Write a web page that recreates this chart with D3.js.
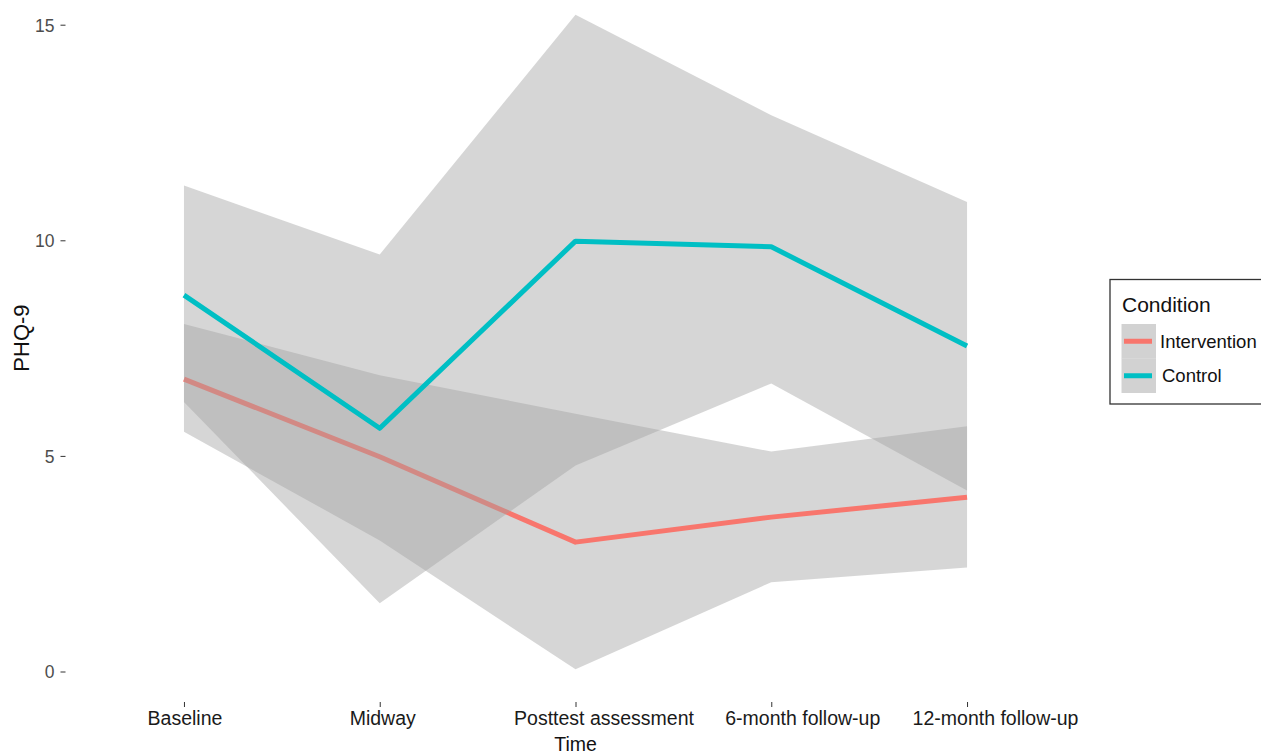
<!DOCTYPE html>
<html>
<head>
<meta charset="utf-8">
<script src="https://cdn.jsdelivr.net/npm/d3@7"></script>
<style>
  html, body { margin: 0; padding: 0; background: #ffffff; }
  svg { display: block; font-family: "Liberation Sans", Arial, sans-serif; }
</style>
</head>
<body>
<svg id="chart" width="1261" height="755"></svg>
<script>
// PHQ-9 scores over time by condition, with confidence ribbons
const timepoints = ["Baseline", "Midway", "Posttest assessment", "6-month follow-up", "12-month follow-up"];
const conditions = ["Intervention", "Control"];
const conditionColors = ["#F8766D", "#00BFC4"];

const interventionMean  = [6.78, 4.98, 3.00, 3.58, 4.04];
const interventionLower = [5.56, 3.04, 0.05, 2.07, 2.41];
const interventionUpper = [8.06, 6.87, 5.98, 5.10, 5.69];

const controlMean  = [8.73, 5.64, 9.98, 9.85, 7.55];
const controlLower = [6.25, 1.58, 4.78, 6.68, 4.20];
const controlUpper = [11.27, 9.67, 15.23, 12.90, 10.89];

const yTicks = [0, 5, 10, 15];

const series = [
  { name: conditions[0], color: conditionColors[0], mean: interventionMean, lower: interventionLower, upper: interventionUpper },
  { name: conditions[1], color: conditionColors[1], mean: controlMean, lower: controlLower, upper: controlUpper }
];

// multi-word tick labels sit slightly right of their tick
const labelNudge = { "Baseline": 0.5, "Midway": 2.5, "Posttest assessment": 28, "6-month follow-up": 31, "12-month follow-up": 28 };

const svg = d3.select("#chart");

const panel = { left: 66.5, right: 1084.5, bottom: 702 };

const x = d3.scalePoint()
  .domain(timepoints)
  .range([panel.left, panel.right])
  .padding(0.6);

const y = d3.scaleLinear()
  .domain([0, 15])
  .range([671.5, 24.7]);

const ribbonFill = "#a2a2a2";
const ribbonAlpha = 0.44;

const area = d3.area()
  .x(d => x(d.t))
  .y0(d => y(d.lo))
  .y1(d => y(d.hi));

const line = d3.line()
  .x(d => x(d.t))
  .y(d => y(d.v));

const plot = svg.append("g");

// each condition: ribbon first, then its mean line
series.forEach(s => {
  const rows = timepoints.map((t, i) => ({ t, v: s.mean[i], lo: s.lower[i], hi: s.upper[i] }));
  plot.append("path")
    .datum(rows)
    .attr("d", area)
    .attr("fill", ribbonFill)
    .attr("fill-opacity", ribbonAlpha);
  plot.append("path")
    .datum(rows)
    .attr("d", line)
    .attr("fill", "none")
    .attr("stroke", s.color)
    .attr("stroke-width", 5)
    .attr("stroke-linejoin", "round");
});

// y axis (ticks and labels only)
const yAxis = d3.axisLeft(y)
  .tickValues(yTicks)
  .tickSize(5)
  .tickPadding(6);
const gy = svg.append("g")
  .attr("transform", `translate(${panel.left - 1},0)`)
  .call(yAxis);
gy.select(".domain").remove();
gy.selectAll(".tick line").attr("stroke", "#333333").attr("stroke-width", 1);
gy.selectAll(".tick text")
  .attr("fill", "#4d4d4d")
  .style("font-size", "17.5px")
  .attr("dy", "0.36em");

// x axis (ticks and labels only)
const xAxis = d3.axisBottom(x)
  .tickSize(5)
  .tickPadding(4);
const gx = svg.append("g")
  .attr("transform", `translate(0,${panel.bottom})`)
  .call(xAxis);
gx.select(".domain").remove();
gx.selectAll(".tick line").attr("stroke", "#333333").attr("stroke-width", 1);
gx.selectAll(".tick text")
  .attr("fill", "#1a1a1a")
  .attr("dx", d => labelNudge[d] || 0)
  .style("font-size", "19.5px");

// axis titles
svg.append("text")
  .attr("x", (panel.left + panel.right) / 2)
  .attr("y", 751)
  .attr("text-anchor", "middle")
  .attr("fill", "#111111")
  .style("font-size", "19.5px")
  .text("Time");

svg.append("text")
  .attr("transform", "translate(29,338) rotate(-90)")
  .attr("text-anchor", "middle")
  .attr("fill", "#111111")
  .style("font-size", "22px")
  .text("PHQ-9");

// legend
const legend = svg.append("g");
legend.append("rect")
  .attr("x", 1110)
  .attr("y", 279.5)
  .attr("width", 200)
  .attr("height", 124.5)
  .attr("fill", "#ffffff")
  .attr("stroke", "#333333")
  .attr("stroke-width", 1.3);

legend.append("text")
  .attr("x", 1122)
  .attr("y", 312)
  .attr("fill", "#111111")
  .style("font-size", "21px")
  .text("Condition");

const keyY = d3.scaleBand()
  .domain(conditions)
  .range([324, 393]);

conditions.forEach((c, i) => {
  const ky = keyY(c);
  legend.append("rect")
    .attr("x", 1121.5)
    .attr("y", ky)
    .attr("width", 34.5)
    .attr("height", keyY.bandwidth())
    .attr("fill", ribbonFill)
    .attr("fill-opacity", ribbonAlpha * 1.1);
  legend.append("line")
    .attr("x1", 1124)
    .attr("x2", 1152)
    .attr("y1", ky + keyY.bandwidth() / 2)
    .attr("y2", ky + keyY.bandwidth() / 2)
    .attr("stroke", conditionColors[i])
    .attr("stroke-width", 5);
  legend.append("text")
    .attr("x", i === 0 ? 1160 : 1162)
    .attr("y", ky + keyY.bandwidth() / 2)
    .attr("dy", "0.36em")
    .attr("fill", "#111111")
    .style("font-size", "18.5px")
    .text(c);
});
</script>
</body>
</html>
